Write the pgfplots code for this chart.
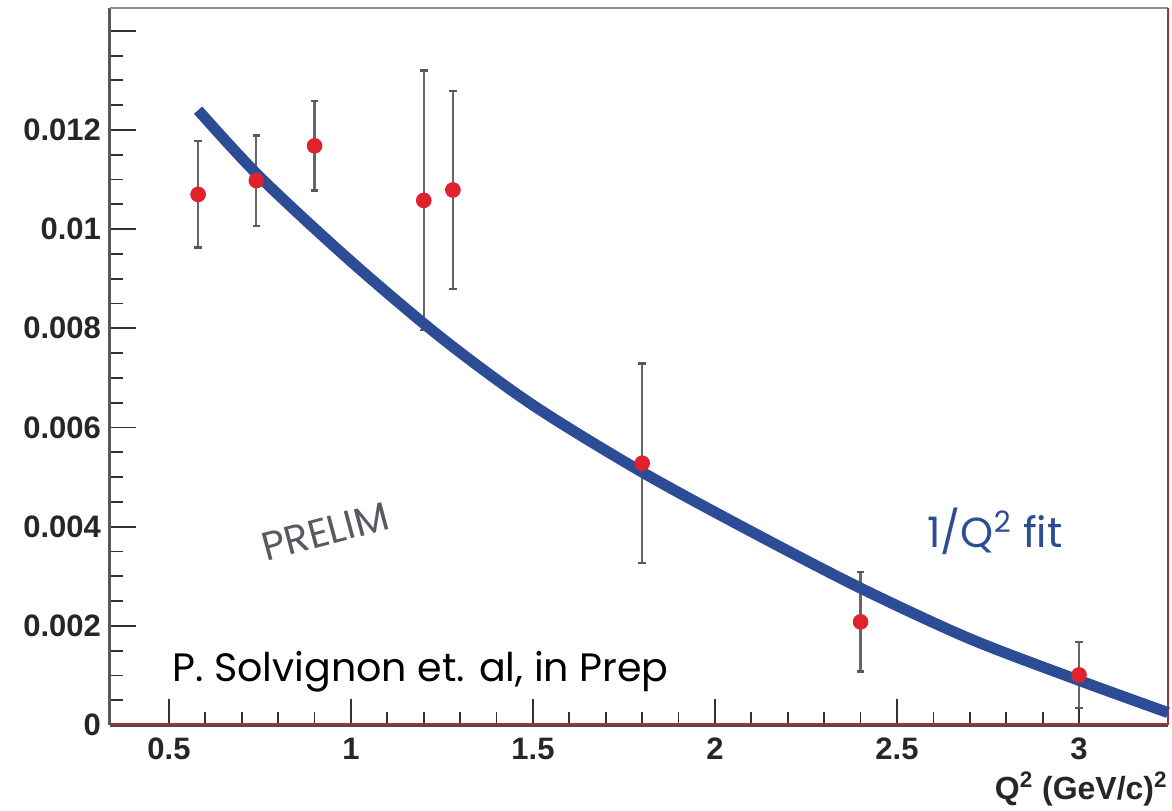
\documentclass[border=0pt]{standalone}
\usepackage{pgfplots}
\pgfplotsset{compat=1.18}
\usepackage{fontspec}
\setmainfont{Liberation Sans}
\newfontfamily\comic{Poppins}
\definecolor{fitblue}{HTML}{2D4C96}
\definecolor{ptred}{HTML}{E0222C}
\definecolor{prelim}{HTML}{5E5660}
\definecolor{framered}{HTML}{A8303C}
\begin{document}
\begin{tikzpicture}
\path[use as bounding box] (-55pt,-42.5pt) rectangle (531pt,362.5pt);
\begin{axis}[
  at={(0,0)}, anchor=south west,
  scale only axis, width=529pt, height=358.5pt,
  xmin=0.338, xmax=3.2445, ymin=0, ymax=0.01446,
  clip=false,
  axis line style={draw=none},
  xtick={0.5,1,1.5,2,2.5,3},
  xticklabels={0.5,1,1.5,2,2.5,3},
  ytick={0,0.002,0.004,0.006,0.008,0.01,0.012,0.014},
  yticklabels={0,0.002,0.004,0.006,0.008,0.01,0.012,},
  scaled y ticks=false,
  minor x tick num=4, minor y tick num=3,
  xtick pos=bottom, ytick pos=left,
  tick align=inside,
  major tick length=13pt, minor tick length=6.5pt,
  tick style={color=black!80, line width=0.9pt},
  /pgf/number format/assume math mode=true,
  tick label style={font=\bfseries\fontsize{15.5}{16}\selectfont, color=black!85},
  xticklabel style={yshift=-3pt},
  yticklabel style={xshift=-1pt},
]
% frame
\draw[line width=1.5pt, black!65] (rel axis cs:0,0) -- (rel axis cs:0,1);
\draw[line width=1.3pt, black!45] (rel axis cs:0,1) -- (rel axis cs:1,1);
\draw[line width=1.2pt, framered] (rel axis cs:1,0) -- (rel axis cs:1,1);
\draw[line width=0.9pt, black!70] ([yshift=-0.45pt]rel axis cs:0,0) -- ([yshift=-0.45pt]rel axis cs:1,0);
\draw[line width=0.8pt, framered] ([yshift=0.4pt]rel axis cs:0,0) -- ([yshift=0.4pt]rel axis cs:1,0);

% data with error bars
\addplot[ptred, only marks, mark=*, mark size=3.7pt, mark options={fill=ptred, draw=ptred},
  error bars/.cd, y dir=both, y explicit,
  error bar style={line width=1.1pt, color=black!60},
  error mark=-,
  error mark options={rotate=90, line width=1.1pt, color=black!65, mark size=1.9pt}]
  table[x=x, y=y, y error=e] {
x y e
0.58 0.01070 0.00107
0.74 0.01098 0.00091
0.90 0.01168 0.00090
1.20 0.01058 0.00262
1.28 0.01079 0.00200
1.80 0.00528 0.00201
2.40 0.00208 0.00100
3.00 0.00101 0.00067
};

% fit curve
\addplot[color=fitblue, line width=5.5pt, smooth, no marks] coordinates {
(0.58,0.01240) (0.75,0.01105) (1.0,0.00935) (1.25,0.00780) (1.5,0.00645)
(1.8,0.00510) (2.1,0.00390) (2.4,0.00276) (2.7,0.00174) (3.0,0.00090) (3.2445,0.00025)
};

% annotations
\node[anchor=base west, font=\comic\fontsize{19.8}{22}\selectfont, inner sep=0pt] at (axis cs:0.508,0.00087) {P. Solvignon et. al, in Prep};
\node[rotate=15, font=\comic\fontsize{20}{22}\selectfont, text=prelim, inner sep=0pt] at (axis cs:0.929,0.00390) {PRELIM};
\node[font=\comic\fontsize{21}{24}\selectfont, text=fitblue, inner sep=0pt] at (axis cs:2.769,0.00390) {1/Q\textsuperscript{2} fit};
\node[anchor=east, font=\bfseries\fontsize{16}{18}\selectfont, color=black!85, inner sep=0pt] at ([yshift=-32pt]rel axis cs:1,0) {Q\textsuperscript{2} (GeV/c)\textsuperscript{2}};
\end{axis}
\end{tikzpicture}
\end{document}
